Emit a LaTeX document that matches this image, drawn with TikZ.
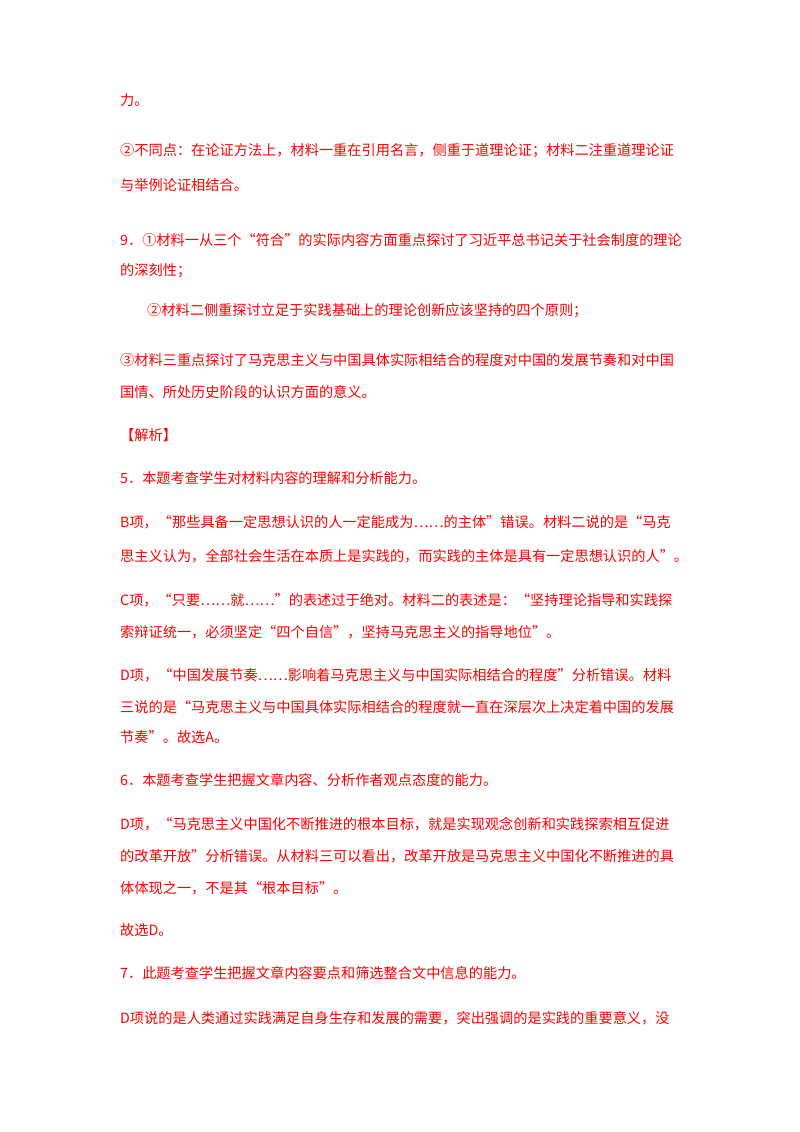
\documentclass[tikz,border=0pt]{standalone}
\usepackage{fontspec}
\setmainfont{Noto Sans CJK SC}
\begin{document}
\begin{tikzpicture}[x=1pt,y=-1pt,
  ln/.style={anchor=base west,inner sep=0pt,text=red,font=\fontsize{14.2}{14.2}\selectfont}]
\useasboundingbox[fill=white] (0,0) rectangle (800,1132);
\node[ln] (l1) at (120,105) {力。};
\node[ln] (l2) at (120,155) {②不同点：在论证方法上，材料一重在引用名言，侧重于道理论证；材料二注重道理论证};
\node[ln] (l3) at (120,190) {与举例论证相结合。};
\node[ln] (l4) at (120,245) {9．①材料一从三个“符合”的实际内容方面重点探讨了习近平总书记关于社会制度的理论};
\node[ln] (l5) at (120,275) {的深刻性；};
\node[ln] (l6) at (147,315) {②材料二侧重探讨立足于实践基础上的理论创新应该坚持的四个原则；};
\node[ln] (l7) at (120,365) {③材料三重点探讨了马克思主义与中国具体实际相结合的程度对中国的发展节奏和对中国};
\node[ln] (l8) at (120,397) {国情、所处历史阶段的认识方面的意义。};
\node[ln] (l9) at (120,440) {【解析】};
\node[ln] (l10) at (120,483) {5．本题考查学生对材料内容的理解和分析能力。};
\node[ln] (l11) at (120,527) {B项，“那些具备一定思想认识的人一定能成为……的主体”错误。材料二说的是“马克};
\node[ln] (l12) at (120,561) {思主义认为，全部社会生活在本质上是实践的，而实践的主体是具有一定思想认识的人”。};
\node[ln] (l13) at (120,605) {C项，“只要……就……”的表述过于绝对。材料二的表述是：“坚持理论指导和实践探};
\node[ln] (l14) at (120,637) {索辩证统一，必须坚定“四个自信”，坚持马克思主义的指导地位”。};
\node[ln] (l15) at (120,680) {D项，“中国发展节奏……影响着马克思主义与中国实际相结合的程度”分析错误。材料};
\node[ln] (l16) at (120,712) {三说的是“马克思主义与中国具体实际相结合的程度就一直在深层次上决定着中国的发展};
\node[ln] (l17) at (120,742) {节奏”。故选A。};
\node[ln] (l18) at (120,785) {6．本题考查学生把握文章内容、分析作者观点态度的能力。};
\node[ln] (l19) at (120,829) {D项，“马克思主义中国化不断推进的根本目标，就是实现观念创新和实践探索相互促进};
\node[ln] (l20) at (120,861) {的改革开放”分析错误。从材料三可以看出，改革开放是马克思主义中国化不断推进的具};
\node[ln] (l21) at (120,893) {体体现之一，不是其“根本目标”。};
\node[ln] (l22) at (120,935) {故选D。};
\node[ln] (l23) at (120,978) {7．此题考查学生把握文章内容要点和筛选整合文中信息的能力。};
\node[ln] (l24) at (120,1023) {D项说的是人类通过实践满足自身生存和发展的需要，突出强调的是实践的重要意义，没};
\end{tikzpicture}
\end{document}
